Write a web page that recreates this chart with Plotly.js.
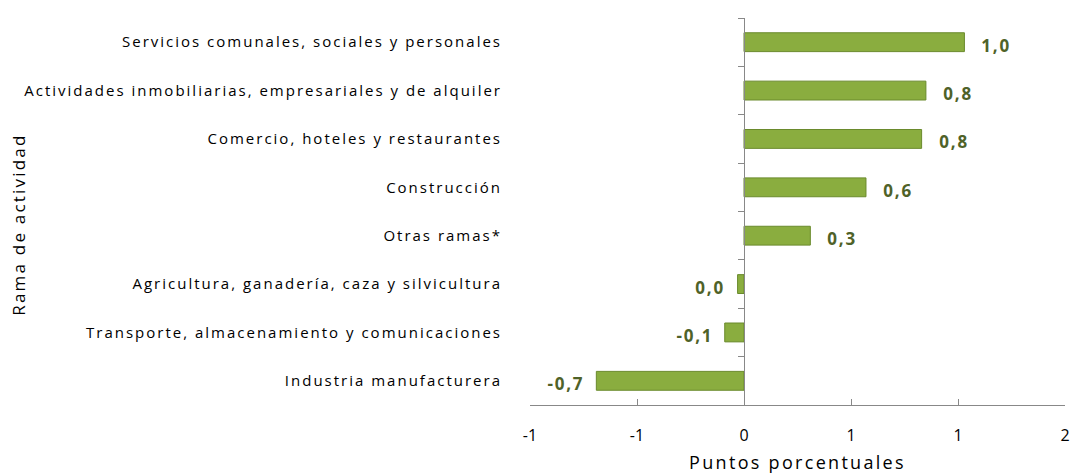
<!DOCTYPE html>
<html>
<head>
<meta charset="utf-8">
<script src="https://cdn.plot.ly/plotly-3.0.1.min.js"></script>
<style>
  html, body { margin: 0; padding: 0; background: #fff; }
  #chart { width: 1072px; height: 474px; }
  /* espaciado ancho como en la figura original */
  #chart g.ytick text { letter-spacing: 2px; }
  #chart text.xtitle { letter-spacing: 2.3px; }
  #chart g.annotation text { letter-spacing: 1.8px; }
  #chart g.annotation[data-index="8"] text { letter-spacing: 2.2px; }
</style>
</head>
<body>
<div id="chart"></div>
<script>
// ramas de actividad, de arriba hacia abajo
var ramas = [
    'Servicios comunales, sociales y personales',
    'Actividades inmobiliarias, empresariales y de alquiler',
    'Comercio, hoteles y restaurantes',
    'Construcción',
    'Otras ramas*',
    'Agricultura, ganadería, caza y silvicultura',
    'Transporte, almacenamiento y comunicaciones',
    'Industria manufacturera'
];
var aporte = [1.03, 0.85, 0.83, 0.57, 0.31, -0.03, -0.09, -0.69];
var etiquetas = ['1,0', '0,8', '0,8', '0,6', '0,3', '0,0', '-0,1', '-0,7'];

var xTicks = [-1, -0.5, 0, 0.5, 1, 1.5];
var xTickText = ['-1', '-1', '0', '1', '1', '2'];

var fontFam = '"Open Sans", "DejaVu Sans", sans-serif';
var verde = '#8AAD3F';
var verdeOscuro = '#4F6228';

var data = [{
    type: 'bar',
    orientation: 'h',
    x: aporte,
    y: ramas,
    marker: {color: verde, line: {color: '#6A8A2C', width: 1}},
    hoverinfo: 'x+y'
}];

var anotaciones = aporte.map(function(v, i){
    return {
        x: v, y: ramas[i], xref: 'x', yref: 'y',
        text: etiquetas[i],
        showarrow: false,
        xanchor: v >= 0 ? 'left' : 'right',
        xshift: v >= 0 ? 18 : -13,
        yshift: -3,
        font: {family: fontFam, size: 17, color: verdeOscuro, weight: 'bold'}
    };
});
anotaciones.push({
    text: 'Rama de actividad',
    xref: 'paper', yref: 'paper',
    x: -0.957, y: 0.465,
    xanchor: 'center', yanchor: 'middle',
    textangle: -90,
    showarrow: false,
    font: {family: fontFam, size: 17, color: '#000'}
});

var layout = {
    width: 1072,
    height: 474,
    margin: {l: 530, r: 7, t: 18, b: 69},
    paper_bgcolor: '#fff',
    plot_bgcolor: '#fff',
    showlegend: false,
    bargap: 0.61,
    font: {family: fontFam, size: 15, color: '#000'},
    xaxis: {
        range: [-1, 1.5],
        tickvals: xTicks,
        ticktext: xTickText,
        ticks: 'inside',
        ticklen: 6,
        tickcolor: '#888',
        showline: true,
        linecolor: '#888',
        showgrid: false,
        zeroline: false,
        ticklabelstandoff: 16,
        tickfont: {family: fontFam, size: 16, color: '#000'},
        title: {text: 'Puntos porcentuales', standoff: 15, font: {family: fontFam, size: 18, color: '#000'}}
    },
    yaxis: {
        type: 'category',
        autorange: 'reversed',
        anchor: 'free',
        position: 0.4,
        showline: true,
        linecolor: '#888',
        ticks: 'outside',
        tickson: 'boundaries',
        ticklen: 6,
        tickcolor: '#888',
        showgrid: false,
        ticklabelstandoff: 239,
        tickfont: {family: fontFam, size: 15, color: '#000'}
    },
    annotations: anotaciones
};

Plotly.newPlot('chart', data, layout, {displayModeBar: false, staticPlot: true});
</script>
</body>
</html>
